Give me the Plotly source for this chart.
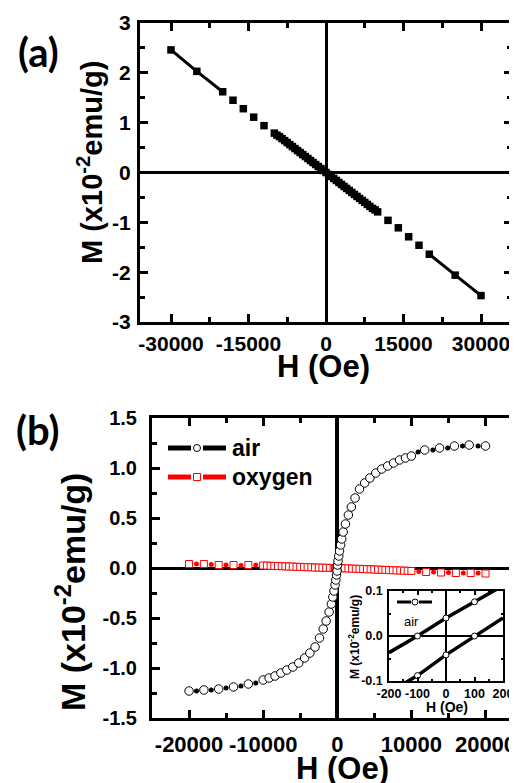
import plotly.graph_objects as go

# page is 517x783; the browser's default body margin puts the figure at (8, 8)
OFF = 8
W, H = 517 - OFF, 783 - OFF

# ---------------- data: panel (a) ----------------
Ha = [-30000, -25000, -20000, -18000, -16000, -14000, -12000,
      -10000, -9500, -9000, -8500, -8000, -7500, -7000, -6500, -6000, -5500,
      -5000, -4500, -4000, -3500, -3000, -2500, -2000, -1500, -1000, -500,
      0, 500, 1000, 1500, 2000, 2500, 3000, 3500, 4000, 4500, 5000,
      5500, 6000, 6500, 7000, 7500, 8000, 8500, 9000, 9500, 10000,
      12000, 14000, 16000, 18000, 20000, 25000, 30000]
Ma = [2.46, 2.03, 1.62, 1.45, 1.28, 1.11, 0.94,
      0.79, 0.75, 0.72, 0.68, 0.64, 0.60, 0.56, 0.52, 0.48, 0.44,
      0.40, 0.36, 0.32, 0.28, 0.24, 0.20, 0.16, 0.12, 0.08, 0.04,
      0.00, -0.04, -0.08, -0.12, -0.16, -0.20, -0.24, -0.28, -0.32, -0.36, -0.40,
      -0.44, -0.48, -0.52, -0.56, -0.60, -0.64, -0.68, -0.72, -0.75, -0.79,
      -0.96, -1.11, -1.29, -1.46, -1.64, -2.06, -2.47]
a_xticks = [-30000, -15000, 0, 15000, 30000]
a_xlabels = ["-30000", "-15000", "0", "15000", "30000"]
a_yticks = [-3, -2, -1, 0, 1, 2, 3]
a_ylabels = ["-3", "-2", "-1", "0", "1", "2", "3"]

# ---------------- data: panel (b) air ----------------
H_air = [-20000, -18000, -16000, -14000, -12000, -10000, -9200, -8400, -7600,
         -6800, -6000, -5200, -4400, -3700, -3000, -2400, -1900, -1500, -1100,
         -800, -600, -450, -300, -200, -100, -30, 40, 100, 200, 300, 450, 600,
         800, 1100, 1500, 1900, 2400, 3000, 3700, 4400, 5200, 6000, 6800, 7600,
         8400, 9200, 10000, 11800, 13800, 15800, 17800, 20000]
M_air = [-1.23, -1.22, -1.21, -1.19, -1.16, -1.12, -1.10, -1.08, -1.05,
         -1.02, -0.99, -0.95, -0.90, -0.85, -0.79, -0.70, -0.61, -0.53, -0.44,
         -0.36, -0.29, -0.23, -0.17, -0.12, -0.07, -0.03, 0.03, 0.07, 0.12, 0.17,
         0.23, 0.29, 0.36, 0.44, 0.53, 0.61, 0.70, 0.79, 0.85, 0.90, 0.95, 0.99,
         1.02, 1.05, 1.08, 1.10, 1.12, 1.18, 1.20, 1.22, 1.23, 1.22]
H_air_dot = [-19000, -17000, -15000, -13000, -11000, 10900, 12900, 14900, 16900, 19000]
M_air_dot = [-1.23, -1.22, -1.20, -1.18, -1.15, 1.16, 1.18, 1.20, 1.22, 1.22]

# ---------------- data: panel (b) oxygen ----------------
H_ox = [-20000, -18000, -16000, -14000, -12000,
        -10000, -9500, -9000, -8500, -8000, -7500, -7000, -6500, -6000, -5500,
        -5000, -4500, -4000, -3500, -3000, -2500, -2000, -1500, -1000, -500,
        -300, -200, -100, 0, 100, 200, 300,
        500, 1000, 1500, 2000, 2500, 3000, 3500, 4000, 4500, 5000,
        5500, 6000, 6500, 7000, 7500, 8000, 8500, 9000, 9500, 10000,
        12000, 14000, 16000, 18000, 20000]
M_ox = [0.04, 0.04, 0.03, 0.03, 0.03,
        0.025, 0.024, 0.022, 0.021, 0.020, 0.018, 0.017, 0.015, 0.014, 0.012,
        0.011, 0.010, 0.008, 0.007, 0.005, 0.004, 0.003, 0.002, 0.001, 0.000,
        0.000, 0.000, 0.000, 0.000, 0.000, -0.001, -0.001,
        -0.002, -0.003, -0.004, -0.006, -0.007, -0.009, -0.010, -0.012, -0.013, -0.015,
        -0.016, -0.018, -0.019, -0.021, -0.022, -0.024, -0.025, -0.027, -0.028, -0.030,
        -0.040, -0.045, -0.050, -0.050, -0.055]
H_ox_dot = [-19000, -17000, -15000, -13000, -11000, 11000, 13000, 15000, 17000, 19000]
M_ox_dot = [0.04, 0.035, 0.03, 0.025, 0.03, -0.035, -0.04, -0.045, -0.05, -0.05]
b_xticks = [-20000, -10000, 0, 10000, 20000]
b_xlabels = ["-20000", "-10000", "0", "10000", "20000"]
b_yticks = [-1.5, -1.0, -0.5, 0.0, 0.5, 1.0, 1.5]
b_ylabels = ["-1.5", "-1.0", "-0.5", "0.0", "0.5", "1.0", "1.5"]

# ---------------- data: inset (air, low field) ----------------
H_in = [-200, -100, 0, 100, 200]
M_in_up = [-0.037, 0.000, 0.040, 0.076, 0.112]
M_in_dn = [-0.125, -0.088, -0.042, 0.000, 0.040]
H_in_mk = [-100, 0, 100]
M_in_up_mk = [0.000, 0.040, 0.076]
M_in_dn_mk = [-0.088, -0.042, 0.000]
in_xticks = [-200, -100, 0, 100, 200]
in_xlabels = ["-200", "-100", "0", "100", "200"]
in_yticks = [-0.1, 0.0, 0.1]
in_ylabels = ["-0.1", "0.0", "0.1"]

# ---------------- helpers (page pixel -> paper) ----------------
def px(x):
    return (x - OFF) / W

def py(y):
    return 1 - (y - OFF) / H

FONT = "Liberation Sans, Arial, sans-serif"
fig = go.Figure()

# panel (a)
line_idx = [0, 1, 2]
fig.add_trace(go.Scatter(
    x=[Ha[i] for i in line_idx] + [None] + Ha[-3:],
    y=[Ma[i] for i in line_idx] + [None] + Ma[-3:],
    mode="lines", line=dict(color="black", width=3), xaxis="x", yaxis="y",
    showlegend=False, hoverinfo="skip"))
fig.add_trace(go.Scatter(
    x=Ha, y=Ma, mode="markers", xaxis="x", yaxis="y",
    marker=dict(symbol="square", size=7.5, color="black"), showlegend=False))

# panel (b)
fig.add_trace(go.Scatter(
    x=H_ox, y=M_ox, mode="markers", xaxis="x2", yaxis="y2",
    marker=dict(symbol="square", size=7, color="white", line=dict(color="red", width=1)),
    showlegend=False))
fig.add_trace(go.Scatter(
    x=H_ox_dot, y=M_ox_dot, mode="markers", xaxis="x2", yaxis="y2",
    marker=dict(symbol="circle", size=5, color="red"), showlegend=False))
fig.add_trace(go.Scatter(
    x=H_air, y=M_air, mode="markers", xaxis="x2", yaxis="y2",
    marker=dict(symbol="circle", size=8.5, color="white", line=dict(color="black", width=1)),
    showlegend=False))
fig.add_trace(go.Scatter(
    x=H_air_dot, y=M_air_dot, mode="markers", xaxis="x2", yaxis="y2",
    marker=dict(symbol="circle", size=5, color="black"), showlegend=False))
# dummy trace for the right-side tick axis
fig.add_trace(go.Scatter(x=[None], y=[None], xaxis="x2", yaxis="y3", showlegend=False))

# inset
fig.add_trace(go.Scatter(
    x=H_in, y=M_in_up, mode="lines", xaxis="x4", yaxis="y4",
    line=dict(color="black", width=3.5), showlegend=False))
fig.add_trace(go.Scatter(
    x=H_in, y=M_in_dn, mode="lines", xaxis="x4", yaxis="y4",
    line=dict(color="black", width=3.5), showlegend=False))
fig.add_trace(go.Scatter(
    x=H_in_mk + H_in_mk, y=M_in_up_mk + M_in_dn_mk, mode="markers", xaxis="x4", yaxis="y4",
    marker=dict(symbol="circle", size=6, color="white", line=dict(color="black", width=1)),
    showlegend=False))

def tf(size):
    return dict(family=FONT, size=size, color="black", weight="bold")

inset_tickfont = tf(12.5)

def main_axis(**kw):
    d = dict(showgrid=False, ticks="inside", ticklen=8, tickwidth=3, tickcolor="black",
             showline=True, linewidth=3, linecolor="black", mirror="ticks",
             zeroline=True, zerolinewidth=3, zerolinecolor="black",
             tickfont=tf(21), automargin=False, tickangle=0)
    d.update(kw)
    return d

def minor(dt, ln=5, w=3):
    return dict(ticks="inside", ticklen=ln, tickwidth=w, tickcolor="black", dtick=dt, tick0=0)

fig.update_layout(
    template="none",
    width=W, height=H, margin=dict(l=0, r=0, t=0, b=0, autoexpand=False),
    paper_bgcolor="white", plot_bgcolor="white", showlegend=False,
    xaxis=main_axis(domain=[px(140), px(512)], range=[-36000, 36000], anchor="y",
                    tickvals=a_xticks, ticktext=a_xlabels, ticklabelstandoff=1,
                    minor=minor(7500)),
    yaxis=main_axis(domain=[py(322), py(23)], range=[-3, 3], anchor="x",
                    tickvals=a_yticks, ticktext=a_ylabels, ticklabelstandoff=2,
                    minor=minor(0.5)),
    xaxis2=main_axis(domain=[px(152), 1.0], range=[-25000, 24250], anchor="y2",
                     tickvals=b_xticks, ticktext=b_xlabels, ticklabelstandoff=5,
                     tickfont=tf(22), zerolinewidth=3.5, minor=minor(5000)),
    yaxis2=main_axis(domain=[py(718), py(418)], range=[-1.5, 1.5], anchor="x2",
                     mirror=False, tickvals=b_yticks, ticktext=b_ylabels,
                     tickfont=tf(20), ticklabelstandoff=8, minor=minor(0.25)),
    yaxis3=dict(overlaying="y2", side="right", anchor="x2", range=[-1.5, 1.5],
                showline=False, showgrid=False, zeroline=False, showticklabels=False,
                automargin=False, tickvals=b_yticks,
                ticks="inside", ticklen=8, tickwidth=3, tickcolor="black",
                minor=minor(0.25)),
    xaxis4=dict(domain=[px(389), px(503)], range=[-200, 200], anchor="y4",
                showgrid=False, ticks="inside", ticklen=4, tickwidth=1.5, tickcolor="black",
                showline=True, linewidth=1.5, linecolor="black", mirror="ticks",
                zeroline=True, zerolinewidth=1.5, zerolinecolor="black",
                tickvals=in_xticks, ticktext=in_xlabels, tickangle=0, automargin=False,
                tickfont=inset_tickfont, ticklabelstandoff=0,
                minor=minor(50, 2, 1.5)),
    yaxis4=dict(domain=[py(681), py(591)], range=[-0.1, 0.1], anchor="x4",
                showgrid=False, ticks="inside", ticklen=4, tickwidth=1.5, tickcolor="black",
                showline=True, linewidth=1.5, linecolor="black", mirror="ticks",
                zeroline=True, zerolinewidth=1.5, zerolinecolor="black",
                tickvals=in_yticks, ticktext=in_ylabels, automargin=False,
                tickfont=inset_tickfont, ticklabelstandoff=2,
                minor=minor(0.05, 2, 1.5)),
)

ann = []
def text(x, y, s, size, bold=True, angle=0, color="black", family=FONT, xanchor="center"):
    ann.append(dict(x=px(x), y=py(y), xref="paper", yref="paper", text=s, showarrow=False,
                    textangle=angle, xanchor=xanchor, yanchor="middle",
                    font=dict(family=family, size=size, color=color,
                              weight="bold" if bold else "normal")))

text(38, 52, "(a)", 40, family="Lato, Open Sans, sans-serif")
text(38, 430, "(b)", 40, family="Lato, Open Sans, sans-serif")
text(90, 163, "M (x10<sup>-2</sup>emu/g)", 29, angle=-90)
text(323, 367, "H (Oe)", 31)
text(70, 592, "M (x10<sup>-2</sup>emu/g)", 34, angle=-90)
text(342, 768, "H (Oe)", 31)
text(230, 448, "air", 23, xanchor="left")
text(230, 477, "oxygen", 23, xanchor="left")
text(411, 621, "air", 13, bold=False)
text(354, 637, "M (x10<sup>-2</sup>emu/g)", 12, angle=-90)
text(447, 707, "H (Oe)", 14)
fig.update_layout(annotations=ann)

shapes = []
def seg(x0, x1, y, color, width):
    shapes.append(dict(type="line", xref="paper", yref="paper", x0=px(x0), x1=px(x1),
                       y0=py(y), y1=py(y), line=dict(color=color, width=width)))

def marker_shape(kind, cx, cy, r, color):
    shapes.append(dict(type=kind, xref="paper", yref="paper", x0=px(cx - r), x1=px(cx + r),
                       y0=py(cy + r), y1=py(cy - r), fillcolor="white",
                       line=dict(color=color, width=1)))

seg(168, 191, 448, "black", 5)
seg(203, 226, 448, "black", 5)
marker_shape("circle", 197, 448, 3.5, "black")
seg(168, 191, 477, "red", 5)
seg(203, 226, 477, "red", 5)
marker_shape("rect", 197, 477, 3.5, "red")
seg(397, 411, 602, "black", 3)
seg(419, 432, 602, "black", 3)
marker_shape("circle", 415, 602, 3, "black")
fig.update_layout(shapes=shapes)

fig.write_html("out.html")
